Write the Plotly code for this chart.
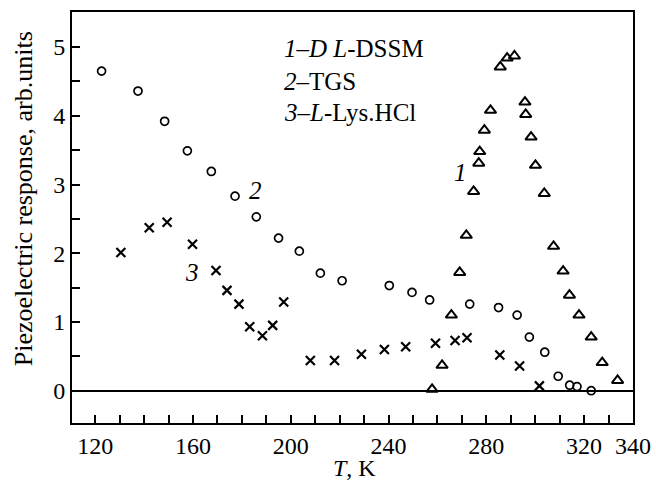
import plotly.graph_objects as go

# Curve 1: DL-DSSM (triangles)
dssm_T = [257.8, 261.9, 265.7, 269.1, 271.8, 274.8, 276.9, 277.3, 279.2, 281.7,
          285.7, 288.5, 291.5, 295.8, 296.1, 298.3, 300.1, 303.7, 307.5, 311.4,
          314.0, 317.9, 322.9, 327.4, 333.7]
dssm_P = [0.02, 0.37, 1.10, 1.72, 2.26, 2.90, 3.31, 3.48, 3.79, 4.08,
          4.71, 4.84, 4.87, 4.20, 4.02, 3.69, 3.28, 2.87, 2.10, 1.74,
          1.39, 1.10, 0.78, 0.41, 0.15]

# Curve 2: TGS (circles)
tgs_T = [122.6, 137.5, 148.4, 157.7, 167.5, 177.2, 185.9, 195.0, 203.5, 212.1,
         221.0, 240.3, 249.6, 256.8, 273.2, 285.0, 292.6, 297.6, 303.9, 309.4,
         314.1, 317.1, 322.9]
tgs_P = [4.65, 4.36, 3.92, 3.49, 3.19, 2.83, 2.53, 2.22, 2.03, 1.71,
         1.60, 1.53, 1.43, 1.32, 1.26, 1.21, 1.10, 0.78, 0.56, 0.21,
         0.08, 0.06, 0.00]

# Curve 3: L-Lys.HCl (crosses)
lys_T = [130.5, 142.1, 149.4, 159.8, 169.4, 173.9, 178.8, 183.2, 188.4, 192.6,
         197.1, 208.0, 217.9, 228.9, 238.3, 247.0, 259.2, 267.2, 272.1, 285.5,
         293.6, 301.7]
lys_P = [2.01, 2.37, 2.45, 2.13, 1.75, 1.46, 1.26, 0.93, 0.80, 0.95,
         1.29, 0.44, 0.44, 0.53, 0.60, 0.64, 0.69, 0.73, 0.77, 0.52,
         0.36, 0.07]

x_tick_vals = list(range(120, 341, 10))
x_tick_labels = ["120", "", "", "", "160", "", "", "", "200", "", "", "", "240",
                 "", "", "", "280", "", "", "", "320", "", "340"]
y_tick_vals = [0, 1, 2, 3, 4, 5]
y_tick_labels = ["0", "1", "2", "3", "4", "5"]

legend_lines = ["<i>1</i>–<i>D L</i>-DSSM", "<i>2</i>–TGS", "<i>3</i>–<i>L</i>-Lys.HCl"]
legend_y = [4.98, 4.50, 4.05]
legend_x = 196.5

curve_labels = ["1", "2", "3"]
curve_label_T = [269.4, 185.5, 159.6]
curve_label_P = [3.18, 2.92, 1.72]

FONT = "Liberation Serif, Times New Roman, serif"

fig = go.Figure()
fig.add_trace(go.Scatter(x=dssm_T, y=dssm_P, mode="markers",
                         marker=dict(symbol="triangle-up-open", size=10, color="black",
                                     line=dict(width=2, color="black"))))
fig.add_trace(go.Scatter(x=tgs_T, y=tgs_P, mode="markers",
                         marker=dict(symbol="circle-open", size=8, color="black",
                                     line=dict(width=1.7, color="black"))))
fig.add_trace(go.Scatter(x=lys_T, y=lys_P, mode="markers",
                         marker=dict(symbol="x-thin-open", size=9, color="black",
                                     line=dict(width=2.2, color="black"))))

for txt, yy in zip(legend_lines, legend_y):
    fig.add_annotation(x=legend_x, y=yy, xref="x", yref="y", text=txt, showarrow=False,
                       xanchor="left", yanchor="middle",
                       font=dict(family=FONT, size=25, color="black"))
for txt, xx, yy in zip(curve_labels, curve_label_T, curve_label_P):
    fig.add_annotation(x=xx, y=yy, xref="x", yref="y", text="<i>" + txt + "</i>",
                       showarrow=False, xanchor="center", yanchor="middle",
                       font=dict(family=FONT, size=25, color="black"))

# axis titles
fig.add_annotation(x=0.504, y=-0.109, xref="paper", yref="paper", text="<i>T</i>, K",
                   showarrow=False, xanchor="center", yanchor="middle",
                   font=dict(family=FONT, size=24, color="black"))
fig.add_annotation(x=-0.087, y=0.545, xref="paper", yref="paper",
                   text="Piezoelectric response, arb.units", textangle=-90,
                   showarrow=False, xanchor="center", yanchor="middle",
                   font=dict(family=FONT, size=26, color="black"))

fig.update_layout(
    width=656, height=482,
    margin=dict(l=72, r=23, t=12, b=59),
    paper_bgcolor="white", plot_bgcolor="white",
    showlegend=False,
    font=dict(family=FONT, size=24, color="black"),
)
fig.update_xaxes(
    range=[110.5, 340], showgrid=False, zeroline=False, automargin=False,
    showline=True, linecolor="black", linewidth=2, mirror=True,
    ticks="inside", ticklen=8, tickwidth=1.5, tickcolor="black",
    tickvals=x_tick_vals, ticktext=x_tick_labels,
    tickfont=dict(family=FONT, size=24, color="black"),
)
fig.update_yaxes(
    range=[-0.47, 5.51], showgrid=False, automargin=False,
    zeroline=True, zerolinecolor="black", zerolinewidth=2,
    showline=True, linecolor="black", linewidth=2, mirror=True,
    ticks="inside", ticklen=8, tickwidth=1.5, tickcolor="black",
    tickvals=y_tick_vals, ticktext=y_tick_labels,
    minor=dict(dtick=0.5, tick0=0, ticks="inside", ticklen=8, tickwidth=1.5, tickcolor="black"),
    tickfont=dict(family=FONT, size=24, color="black"),
)

fig.write_html("out.html", config={"displayModeBar": False},
               post_script="document.body.style.margin='0';")
